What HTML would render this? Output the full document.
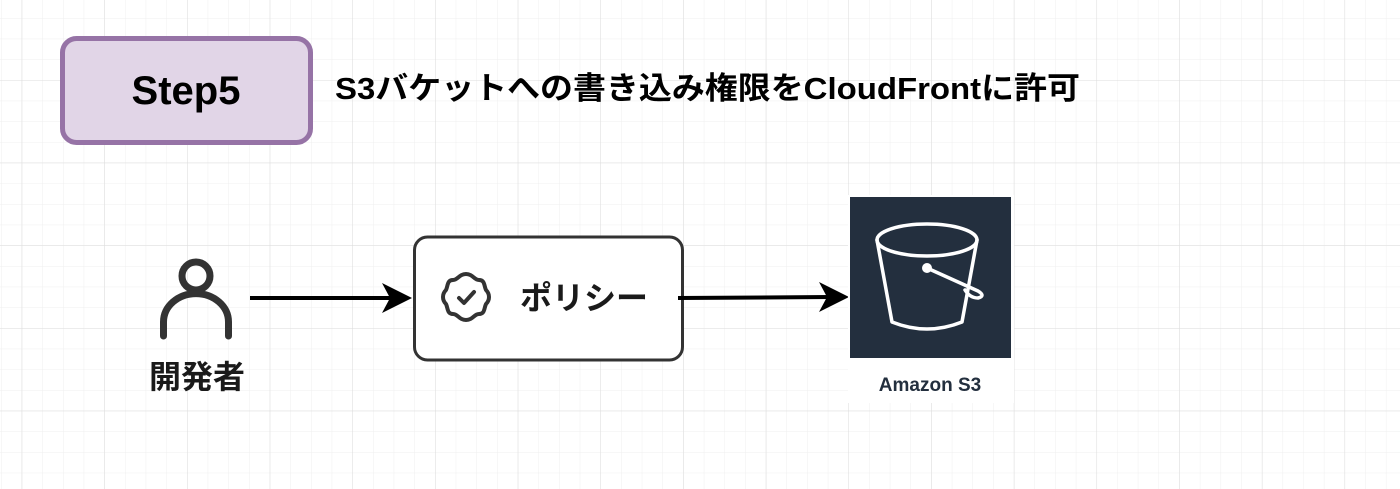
<!DOCTYPE html>
<html><head><meta charset="utf-8"><style>
html,body{margin:0;padding:0;background:#fff;}
svg{display:block;}
text{font-family:"Liberation Sans","Noto Sans CJK JP",sans-serif;font-weight:bold;}
</style></head><body>
<svg width="1400" height="489" viewBox="0 0 1400 489" xmlns="http://www.w3.org/2000/svg">
<defs>
<pattern id="minor" x="1" y="18" width="20.67" height="20.67" patternUnits="userSpaceOnUse">
<path d="M0 0H20.67M0 0V20.67" stroke="#efefef" stroke-width="1" fill="none"/>
</pattern>
<pattern id="major" x="21.7" y="80" width="82.68" height="82.68" patternUnits="userSpaceOnUse">
<path d="M0 0H82.68M0 0V82.68" stroke="#dcdcdc" stroke-width="1" fill="none"/>
</pattern>
</defs>
<rect width="1400" height="489" fill="url(#minor)"/>
<rect width="1400" height="489" fill="url(#major)"/>

<rect x="62.5" y="38.5" width="248" height="104" rx="14" fill="#e1d5e7" stroke="#9673a6" stroke-width="5"/>
<text x="186" y="104" font-size="40" text-anchor="middle" fill="#000">Step5</text>
<text x="335" y="99" font-size="31" textLength="745" lengthAdjust="spacingAndGlyphs" fill="#000">S3バケットへの書き込み権限をCloudFrontに許可</text>

<!-- person -->
<circle cx="196" cy="276" r="14" fill="none" stroke="#333" stroke-width="7"/>
<path d="M163.5 336 V322 A32 28 0 0 1 228.5 322 V336" fill="none" stroke="#333" stroke-width="7" stroke-linecap="round"/>
<text x="197" y="388" font-size="32" text-anchor="middle" fill="#1a1a1a">開発者</text>

<!-- arrow1 -->
<line x1="250" y1="298" x2="392" y2="298" stroke="#000" stroke-width="4"/>
<path d="M412 298 L382 283 L390 298 L382 313 Z" fill="#000"/>

<!-- policy box -->
<rect x="414.5" y="237" width="268" height="123" rx="13" fill="#fff" stroke="#333" stroke-width="3"/>
<g transform="translate(466,297)" fill="none" stroke="#333" stroke-width="4" stroke-linejoin="round" stroke-linecap="round">
<path d="M0 -23 C7 -23 8 -17 13 -17 C19 -17 18 -11 20 -7 C24 -3 24 3 20 7 C18 11 19 17 13 17 C8 17 7 23 0 23 C-7 23 -8 17 -13 17 C-19 17 -18 11 -20 7 C-24 3 -24 -3 -20 -7 C-18 -11 -19 -17 -13 -17 C-8 -17 -7 -23 0 -23 Z"/>
<path d="M-7 1 L-2 6 L8 -5"/>
</g>
<text x="584" y="309" font-size="32" text-anchor="middle" fill="#1a1a1a">ポリシー</text>

<!-- arrow2 -->
<line x1="678" y1="298" x2="830" y2="297" stroke="#000" stroke-width="4"/>
<path d="M849 297 L819 282 L827 297 L819 312 Z" fill="#000"/>

<!-- S3 -->
<rect x="848" y="195" width="166" height="208" fill="#fff"/>
<rect x="850" y="197" width="161" height="161" fill="#232f3e"/>
<g fill="none" stroke="#fff" stroke-width="3.5" stroke-linecap="round" stroke-linejoin="round">
<ellipse cx="927" cy="240" rx="50" ry="16"/>
<path d="M877 240 L892 322 Q927 336 962 322 L977 240"/>
<path d="M927 268 L978 291 Q986 296 978 298 Q970 298 965 290"/>
</g>
<circle cx="927" cy="268" r="5" fill="#fff"/>
<text x="930" y="391" font-size="19" text-anchor="middle" fill="#232f3e">Amazon S3</text>
</svg>
</body></html>
